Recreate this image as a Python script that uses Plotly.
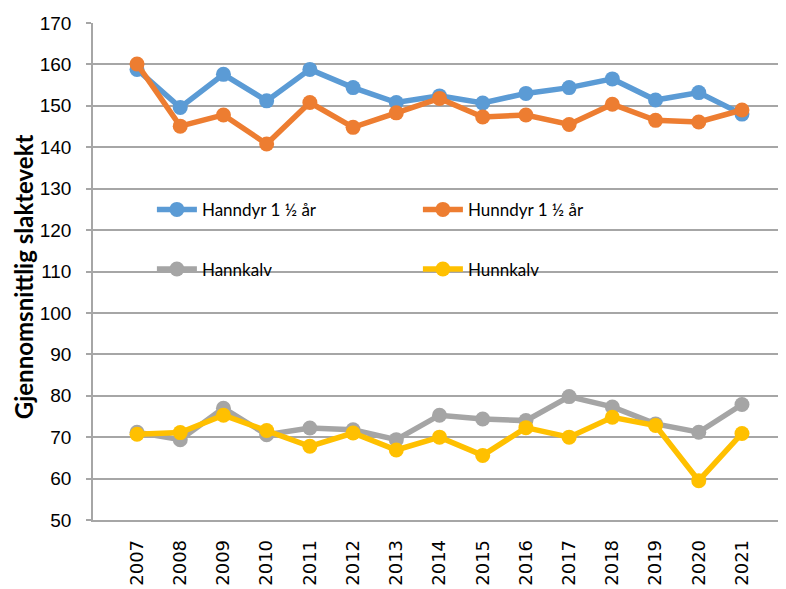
import plotly.graph_objects as go

years = [str(y) for y in range(2007, 2022)]
hanndyr = [158.8, 149.6, 157.6, 151.2, 158.8, 154.4, 150.8, 152.4, 150.7, 153.0, 154.4, 156.5, 151.4, 153.2, 148.0]
hunndyr = [160.1, 145.1, 147.8, 140.8, 150.8, 144.8, 148.3, 151.8, 147.3, 147.8, 145.5, 150.4, 146.5, 146.1, 149.0]
hannkalv = [71.2, 69.4, 77.0, 70.6, 72.2, 71.8, 69.4, 75.3, 74.4, 74.0, 79.8, 77.3, 73.2, 71.2, 77.9]
hunnkalv = [70.7, 71.1, 75.3, 71.6, 67.8, 71.0, 66.9, 70.0, 65.6, 72.3, 70.0, 74.8, 72.8, 59.5, 70.9]

series = [
    ("Hanndyr 1 ½ år", hanndyr, "#5B9BD5", "legend"),
    ("Hunndyr 1 ½ år", hunndyr, "#ED7D31", "legend"),
    ("Hannkalv", hannkalv, "#A5A5A5", "legend2"),
    ("Hunnkalv", hunnkalv, "#FFC000", "legend2"),
]

fig = go.Figure()
for name, vals, col, lg in series:
    fig.add_trace(go.Scatter(
        x=years, y=vals, name=name, mode="lines+markers",
        line=dict(color=col, width=5.5),
        marker=dict(color=col, size=15),
        legend=lg,
    ))

font_family = "Lato, 'Open Sans', sans-serif"
legend_common = dict(
    orientation="h", bgcolor="rgba(0,0,0,0)", borderwidth=0,
    font=dict(family=font_family, size=17, color="#000"),
    entrywidth=211, entrywidthmode="pixels",
    xanchor="left", yanchor="middle", itemwidth=40,
)
fig.update_layout(
    width=778, height=581,
    margin=dict(l=85, r=0, t=15, b=69),
    paper_bgcolor="white", plot_bgcolor="white",
    font=dict(family=font_family, size=16, color="#000"),
    showlegend=True,
    legend=dict(x=0.085, y=0.624, **legend_common),
    legend2=dict(x=0.085, y=0.504, **legend_common),
    xaxis=dict(
        type="category", tickangle=-90, showgrid=False,
        showline=True, linecolor="#A6A6A6", linewidth=1.5,
        ticks="", ticklabelstandoff=11,
        tickfont=dict(size=18, family="DejaVu Sans", color="#000"),
    ),
    yaxis=dict(
        range=[50, 170], dtick=10, showgrid=True, gridcolor="#A6A6A6", gridwidth=1.5,
        showline=True, linecolor="#A6A6A6", linewidth=1.5,
        ticks="outside", ticklen=5, tickcolor="#A6A6A6", tickwidth=1.5,
        ticklabelstandoff=11,
        tickfont=dict(size=19, family="'Liberation Sans Narrow', 'Arial Narrow', sans-serif", color="#000"),
        zeroline=False,
    ),
    annotations=[dict(
        text="<b>Gjennomsnittlig slaktevekt</b>", textangle=-90,
        xref="paper", yref="paper", x=-0.1, y=0.49,
        xanchor="center", yanchor="middle", showarrow=False,
        font=dict(size=24, family=font_family, color="#000"),
    )],
)
fig.write_html("out.html")
